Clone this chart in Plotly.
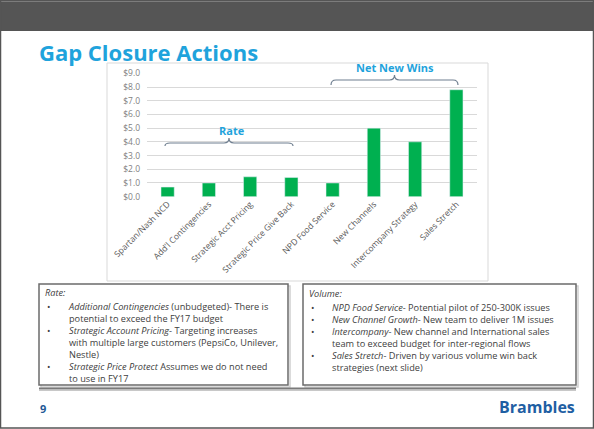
import plotly.graph_objects as go

W, H = 594, 429

# chart data
categories = ["Spartan/Nash NCD", "Add'l Contingencies", "Strategic Acct Pricing",
              "Strategic Price Give Back", "NPD Food Service", "New Channels",
              "Intercompany Strategy", "Sales Stretch"]
values = [0.7, 1.0, 1.45, 1.4, 1.0, 5.0, 4.0, 7.8]
y_ticks = [0, 1, 2, 3, 4, 5, 6, 7, 8, 9]
y_tick_labels = ["$0.0", "$1.0", "$2.0", "$3.0", "$4.0", "$5.0", "$6.0", "$7.0", "$8.0", "$9.0"]

# text box contents: heading, then (bullet?, html text) lines
rate_head = "<i>Rate:</i>"
rate_lines = [
    (True, "<i>Additional Contingencies</i> (unbudgeted)- There is"),
    (False, "potential to exceed the FY17 budget"),
    (True, "<i>Strategic Account Pricing</i>- Targeting increases"),
    (False, "with multiple large customers (PepsiCo, Unilever,"),
    (False, "Nestle)"),
    (True, "<i>Strategic Price Protect</i> Assumes we do not need"),
    (False, "to use in FY17"),
]
volume_head = "<i>Volume:</i>"
volume_lines = [
    (True, "<i>NPD Food Service</i>- Potential pilot of 250-300K issues"),
    (True, "<i>New Channel Growth</i>- New team to deliver 1M issues"),
    (True, "<i>Intercompany</i>- New channel and International sales"),
    (False, "team to exceed budget for inter-regional flows"),
    (True, "<i>Sales Stretch</i>- Driven by various volume win back"),
    (False, "strategies (next slide)"),
]


def px(x):
    return x / W


def py(y):
    return 1 - y / H


FONT = "Open Sans"
BLUE = "#1fa3dc"
TEXT = "#404040"
BOX_SIZE = 9.2


def label(text, x, y, size, color, xanchor="left", yanchor="middle"):
    return dict(text=text, x=px(x), y=py(y), xref="paper", yref="paper",
                xanchor=xanchor, yanchor=yanchor, showarrow=False, borderpad=0,
                align="left", font=dict(family=FONT, size=size, color=color))


fig = go.Figure()
fig.add_trace(go.Bar(x=categories, y=values, marker_color="#00b050",
                     width=0.32, showlegend=False))

shapes = []
annotations = []

# top dark band and slide frame
shapes.append(dict(type="rect", xref="paper", yref="paper", x0=0, x1=1,
                   y0=py(31), y1=1, fillcolor="#555555", line_width=0, layer="below"))
shapes.append(dict(type="line", xref="paper", yref="paper", x0=0, x1=1,
                   y0=py(1), y1=py(1), line=dict(color="#8a8a8a", width=2)))
shapes.append(dict(type="rect", xref="paper", yref="paper", x0=px(0.5), x1=px(593.5),
                   y0=py(428), y1=py(0.5), line=dict(color="#555555", width=1.5)))

# chart frame
shapes.append(dict(type="rect", xref="paper", yref="paper", x0=px(107), x1=px(488),
                   y0=py(281), y1=py(63), line=dict(color="#d9d9d9", width=1), layer="below"))


def bracket(x0, x1, ytop, yend):
    xm = (x0 + x1) / 2
    yh = ytop + 5
    pts = (f"M {px(x0)},{py(yend)} Q {px(x0)},{py(yh)} {px(x0 + 5)},{py(yh)} "
           f"L {px(xm - 5)},{py(yh)} Q {px(xm)},{py(yh)} {px(xm)},{py(ytop)} "
           f"Q {px(xm)},{py(yh)} {px(xm + 5)},{py(yh)} "
           f"L {px(x1 - 5)},{py(yh)} Q {px(x1)},{py(yh)} {px(x1)},{py(yend)}")
    return dict(type="path", xref="paper", yref="paper", path=pts,
                line=dict(color="#6f7f90", width=1.2))


shapes.append(bracket(165, 293, 138, 146))
shapes.append(bracket(331, 458, 75, 85))
annotations.append(label("<b>Rate</b>", 232, 130.5, 11, BLUE, "center"))
annotations.append(label("<b>Net New Wins</b>", 395, 67.5, 11, BLUE, "center"))

# title
annotations.append(label("<b>Gap Closure Actions</b>", 38, 52, 22, BLUE))

# text boxes
for x0, x1 in [(39, 288), (303, 576)]:
    shapes.append(dict(type="rect", xref="paper", yref="paper", x0=px(x0 + 2), x1=px(x1 + 2),
                       y0=py(387), y1=py(286), line=dict(color="#d0d0d0", width=1.5),
                       layer="below"))
    shapes.append(dict(type="rect", xref="paper", yref="paper", x0=px(x0), x1=px(x1),
                       y0=py(385), y1=py(284), fillcolor="white",
                       line=dict(color="#6b6b6b", width=1.5)))

shapes.append(dict(type="line", xref="paper", yref="paper", x0=px(39), x1=px(576),
                   y0=py(388.5), y1=py(388.5), line=dict(color="#7a7a7a", width=2)))
shapes.append(dict(type="line", xref="paper", yref="paper", x0=px(39), x1=px(576),
                   y0=py(390.5), y1=py(390.5), line=dict(color="#c8c8c8", width=1)))


def box_text(head, lines, x_head, x_bullet, x_text, y_head, y_first):
    annotations.append(label(head, x_head, y_head, BOX_SIZE, TEXT))
    bullets = "<br>".join("•" if b else "\u00a0" for b, _ in lines)
    body = "<br>".join(t for _, t in lines)
    top = y_first - 0.65 * BOX_SIZE
    annotations.append(label(bullets, x_bullet, top, BOX_SIZE, TEXT, yanchor="top"))
    annotations.append(label(body, x_text, top, BOX_SIZE, TEXT, yanchor="top"))


box_text(rate_head, rate_lines, 44, 46, 67, 292.8, 305)
box_text(volume_head, volume_lines, 308, 310, 331, 293, 305.5)

# footer
annotations.append(label("<b>9</b>", 39, 408, 11, "#1f5a96"))
annotations.append(label("<b>Brambles</b>", 576, 407, 16, "#1f5fa3", "right"))

fig.update_layout(
    width=W, height=H,
    margin=dict(l=0, r=0, t=0, b=0),
    paper_bgcolor="white", plot_bgcolor="white",
    shapes=shapes,
    annotations=annotations,
    xaxis=dict(domain=[px(147), px(477)], range=[-0.5, 7.5], tickangle=-45,
               tickfont=dict(family=FONT, size=8.5, color="#595959"),
               showline=False, ticks="", automargin=False),
    yaxis=dict(domain=[py(196.7), py(73.3)], range=[0, 9], tickvals=y_ticks,
               ticktext=y_tick_labels, showgrid=True, gridcolor="#d9d9d9",
               gridwidth=1, zeroline=False, ticks="", ticklabelstandoff=6,
               automargin=False,
               tickfont=dict(family=FONT, size=8.5, color="#7f7f7f")),
)

# page body has a default 8px margin; drop it so the slide sits at the corner
fig.write_html("out.html", config={"responsive": False, "displayModeBar": False},
               post_script="document.body.style.margin='0';")
